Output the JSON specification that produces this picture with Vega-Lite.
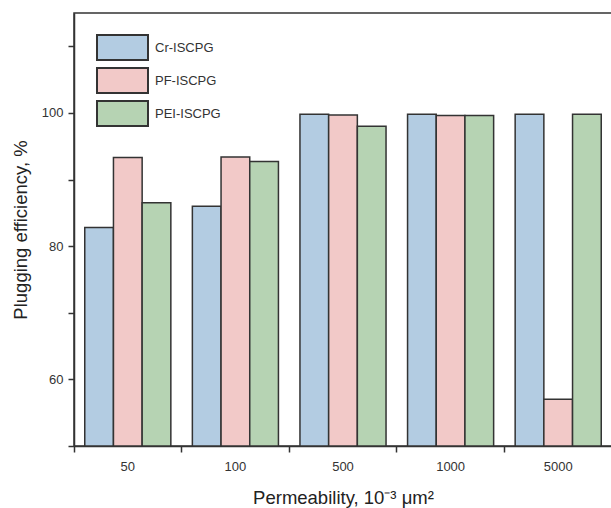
{
  "$schema": "https://vega.github.io/schema/vega-lite/v6.json",
  "width": 538,
  "height": 433,
  "autosize": {"type": "none"},
  "padding": {"left": 74, "top": 13, "right": 0, "bottom": 62},
  "background": "white",
  "config": {
    "font": "Liberation Sans",
    "view": {"stroke": "#333333", "strokeWidth": 1.5},
    "axis": {
      "domainColor": "#333333",
      "domainWidth": 1.5,
      "tickColor": "#333333",
      "tickWidth": 1.5,
      "tickSize": 6,
      "labelFont": "Liberation Sans",
      "labelFontSize": 13,
      "labelColor": "#333333",
      "titleFont": "Liberation Sans",
      "titleFontSize": 18.5,
      "titleFontWeight": "normal",
      "titleColor": "#222222",
      "grid": false
    }
  },
  "data": {
    "values": [
      {"perm": "50", "series": "Cr-ISCPG", "eff": 82.8},
      {"perm": "50", "series": "PF-ISCPG", "eff": 93.3},
      {"perm": "50", "series": "PEI-ISCPG", "eff": 86.5},
      {"perm": "100", "series": "Cr-ISCPG", "eff": 86.0},
      {"perm": "100", "series": "PF-ISCPG", "eff": 93.4},
      {"perm": "100", "series": "PEI-ISCPG", "eff": 92.7},
      {"perm": "500", "series": "Cr-ISCPG", "eff": 99.8},
      {"perm": "500", "series": "PF-ISCPG", "eff": 99.7},
      {"perm": "500", "series": "PEI-ISCPG", "eff": 98.0},
      {"perm": "1000", "series": "Cr-ISCPG", "eff": 99.8},
      {"perm": "1000", "series": "PF-ISCPG", "eff": 99.6},
      {"perm": "1000", "series": "PEI-ISCPG", "eff": 99.6},
      {"perm": "5000", "series": "Cr-ISCPG", "eff": 99.8},
      {"perm": "5000", "series": "PF-ISCPG", "eff": 57.0},
      {"perm": "5000", "series": "PEI-ISCPG", "eff": 99.8}
    ]
  },
  "mark": {"type": "bar", "stroke": "#333333", "strokeWidth": 1.5, "clip": true},
  "encoding": {
    "x": {
      "field": "perm",
      "type": "nominal",
      "sort": ["50", "100", "500", "1000", "5000"],
      "scale": {"paddingInner": 0.2, "paddingOuter": 0.1},
      "axis": {
        "labelAngle": 0,
        "labelPadding": 8,
        "bandPosition": -0.125,
        "title": "Permeability, 10⁻³ μm²",
        "titleY": 57,
        "titleBaseline": "alphabetic"
      }
    },
    "xOffset": {
      "field": "series",
      "type": "nominal",
      "sort": ["Cr-ISCPG", "PF-ISCPG", "PEI-ISCPG"],
      "scale": {"paddingInner": 0, "paddingOuter": 0}
    },
    "y": {
      "field": "eff",
      "type": "quantitative",
      "scale": {"domain": [50, 115], "nice": false, "zero": false},
      "axis": {
        "values": [50, 60, 70, 80, 90, 100, 110],
        "labelExpr": "datum.value % 20 == 0 ? datum.label : ''",
        "labelPadding": 5,
        "title": "Plugging efficiency, %",
        "titleX": -48,
        "titleBaseline": "alphabetic"
      }
    },
    "y2": {"datum": 50},
    "color": {
      "field": "series",
      "type": "nominal",
      "sort": ["Cr-ISCPG", "PF-ISCPG", "PEI-ISCPG"],
      "scale": {
        "domain": ["Cr-ISCPG", "PF-ISCPG", "PEI-ISCPG"],
        "range": ["#b3cce2", "#f2c9c8", "#b6d3b3"]
      },
      "legend": {
        "title": null,
        "orient": "none",
        "legendX": 35,
        "legendY": 21,
        "symbolType": "M-2.04,-1H2.04V1H-2.04Z",
        "symbolSize": 625,
        "symbolStrokeColor": "#333333",
        "symbolStrokeWidth": 2,
        "symbolOpacity": 1,
        "labelFont": "Liberation Sans",
        "labelFontSize": 13,
        "labelColor": "#333333",
        "labelOffset": 19,
        "rowPadding": 0
      }
    }
  }
}
